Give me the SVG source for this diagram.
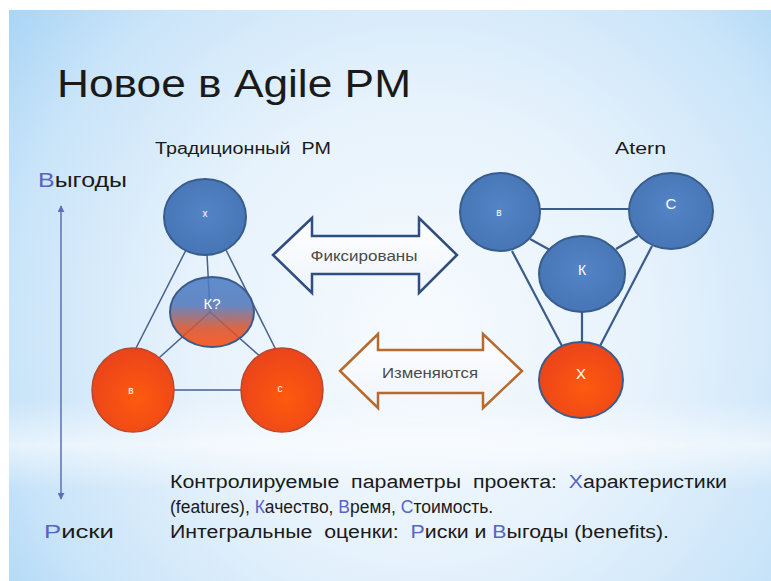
<svg xmlns="http://www.w3.org/2000/svg" width="771" height="581" viewBox="0 0 771 581">
<defs>
<radialGradient id="bg" cx="420" cy="330" r="520" gradientUnits="userSpaceOnUse">
<stop offset="0" stop-color="#f7fbfe"/>
<stop offset="0.45" stop-color="#e6f2fc"/>
<stop offset="0.8" stop-color="#c9e4f9"/>
<stop offset="1" stop-color="#a9d5f6"/>
</radialGradient>
<linearGradient id="streak" x1="0" y1="0" x2="0" y2="1">
<stop offset="0" stop-color="#ffffff" stop-opacity="0"/>
<stop offset="0.5" stop-color="#ffffff" stop-opacity="0.55"/>
<stop offset="1" stop-color="#ffffff" stop-opacity="0"/>
</linearGradient>
<radialGradient id="blueFill" cx="0.5" cy="0.45" r="0.6">
<stop offset="0" stop-color="#5384c6"/>
<stop offset="1" stop-color="#4674b4"/>
</radialGradient>
<radialGradient id="redFill" cx="0.55" cy="0.6" r="0.65">
<stop offset="0" stop-color="#ff5a0e"/>
<stop offset="1" stop-color="#e8421c"/>
</radialGradient>
<linearGradient id="kFill" x1="0" y1="0" x2="0" y2="1">
<stop offset="0" stop-color="#4c7ec6"/>
<stop offset="0.4" stop-color="#5279bb"/>
<stop offset="0.72" stop-color="#d55430"/>
<stop offset="1" stop-color="#ff4a0c"/>
</linearGradient>
<linearGradient id="arrFill" x1="0" y1="0" x2="0" y2="1">
<stop offset="0" stop-color="#ffffff"/>
<stop offset="1" stop-color="#eef4fb"/>
</linearGradient>
<marker id="ah" viewBox="0 0 10 10" refX="9" refY="5" markerWidth="7" markerHeight="7" orient="auto-start-reverse" markerUnits="userSpaceOnUse">
<path d="M0,0 L10,5 L0,10 z" fill="#5b6fb8"/>
</marker>
<style>
.t{font-family:"Liberation Sans","DejaVu Sans",sans-serif;fill:#1a1a1a}
.hl{fill:#5864c4}
.cl{fill:#ffffff;font-family:"Liberation Sans","DejaVu Sans",sans-serif;text-anchor:middle}
.blue{fill:url(#blueFill);stroke:#385d8c;stroke-width:2}
.red{fill:url(#redFill);stroke:#b8482c;stroke-width:1.5}
.lnL{stroke:#465f8c;stroke-width:1.5;fill:none}
.lnR{stroke:#3b5b8a;stroke-width:2.2;fill:none}
.lbl{font-family:"Liberation Sans","DejaVu Sans",sans-serif;fill:#4a4a4a;text-anchor:middle}
</style>
</defs>
<rect x="0" y="0" width="771" height="581" fill="#ffffff"/>
<rect x="9" y="10" width="762" height="571" fill="url(#bg)"/>
<rect x="9" y="400" width="762" height="90" fill="url(#streak)"/>

<text class="t" x="57" y="97" font-size="39" textLength="354" lengthAdjust="spacingAndGlyphs">Новое в Agile PM</text>
<text class="t" x="155" y="154" font-size="16" textLength="176" lengthAdjust="spacingAndGlyphs" xml:space="preserve">Традиционный  PM</text>
<text class="t" x="615" y="154" font-size="16" textLength="51" lengthAdjust="spacingAndGlyphs">Atern</text>
<text class="t" x="38" y="187" font-size="20" textLength="89" lengthAdjust="spacingAndGlyphs"><tspan class="hl">В</tspan>ыгоды</text>
<text class="t" x="44" y="538" font-size="19" textLength="70" lengthAdjust="spacingAndGlyphs"><tspan class="hl">Р</tspan>иски</text>

<g id="connectors">
<line x1="61" y1="345" x2="61" y2="206" stroke="#5b6fb8" stroke-width="1.5" marker-end="url(#ah)"/>
<line x1="61" y1="345" x2="61" y2="499" stroke="#5b6fb8" stroke-width="1.5" marker-end="url(#ah)"/>
<line class="lnL" x1="186" y1="250" x2="134" y2="352"/>
<line class="lnL" x1="226" y1="250" x2="277" y2="352"/>
<line class="lnL" x1="207" y1="254" x2="210" y2="312"/>
<line class="lnL" x1="174" y1="390" x2="241" y2="390"/>
<line class="lnL" x1="210" y1="312" x2="150" y2="366"/>
<line class="lnL" x1="210" y1="312" x2="262" y2="358"/>
<line class="lnR" x1="540" y1="209" x2="629" y2="209"/>
<line class="lnR" x1="530" y1="239" x2="550" y2="250"/>
<line class="lnR" x1="638" y1="236" x2="616" y2="249"/>
<line class="lnR" x1="512" y1="251" x2="562" y2="346"/>
<line class="lnR" x1="652" y1="246" x2="600" y2="346"/>
<line class="lnR" x1="582" y1="311" x2="582" y2="343"/>
</g>

<g id="arrow-fixed">
<polygon points="273,255 312,218 312,236 419,236 419,218 457,255 419,293 419,274 312,274 312,293" fill="url(#arrFill)" stroke="#2f4d80" stroke-width="2.5" stroke-linejoin="miter"/>
<text class="lbl" x="364" y="261" font-size="14" textLength="107" lengthAdjust="spacingAndGlyphs">Фиксированы</text>
</g>
<g id="arrow-change">
<polygon points="340,371 378,334 378,350 483,350 483,334 522,371 483,408 483,393 378,393 378,408" fill="url(#arrFill)" stroke="#b86a2c" stroke-width="2.5" stroke-linejoin="miter"/>
<text class="lbl" x="430" y="378" font-size="15" textLength="96" lengthAdjust="spacingAndGlyphs">Изменяются</text>
</g>

<g id="trad-x">
<ellipse class="blue" cx="205" cy="217" rx="41" ry="38"/>
<text class="cl" x="205" y="217" font-size="10">x</text>
</g>
<g id="trad-k">
<ellipse cx="212" cy="312" rx="42" ry="35" fill="url(#kFill)" fill-opacity="0.88" stroke="#3b5b8a" stroke-width="2"/>
<text class="cl" x="212" y="309" font-size="15">К?</text>
</g>
<g id="trad-b">
<ellipse class="red" cx="133" cy="390" rx="41" ry="42"/>
<text class="cl" x="131" y="394" font-size="10">в</text>
</g>
<g id="trad-c">
<ellipse class="red" cx="282" cy="390" rx="41" ry="42"/>
<text class="cl" x="280" y="392" font-size="10">с</text>
</g>

<g id="atern-b">
<ellipse class="blue" cx="500" cy="212" rx="40" ry="39"/>
<text class="cl" x="499" y="216" font-size="10">в</text>
</g>
<g id="atern-c">
<ellipse class="blue" cx="671" cy="211" rx="42" ry="38"/>
<text class="cl" x="671" y="209" font-size="15">С</text>
</g>
<g id="atern-k">
<ellipse class="blue" cx="582" cy="274" rx="43" ry="38"/>
<text class="cl" x="582" y="275" font-size="14">К</text>
</g>
<g id="atern-x">
<ellipse cx="581" cy="380" rx="42" ry="38" fill="url(#redFill)" stroke="#3b5b8a" stroke-width="2"/>
<text class="cl" x="581" y="379" font-size="15">Х</text>
</g>

<g id="notes">
<text class="t" x="170" y="488" font-size="18" textLength="557" lengthAdjust="spacingAndGlyphs" xml:space="preserve">Контролируемые  параметры  проекта:  <tspan class="hl">Х</tspan>арактеристики</text>
<text class="t" x="170" y="513" font-size="17.5">(features), <tspan class="hl">К</tspan>ачество, <tspan class="hl">В</tspan>ремя, <tspan class="hl">С</tspan>тоимость.</text>
<text class="t" x="170" y="538" font-size="18" textLength="499" lengthAdjust="spacingAndGlyphs" xml:space="preserve">Интегральные  оценки:  <tspan class="hl">Р</tspan>иски и <tspan class="hl">В</tspan>ыгоды (benefits).</text>
</g>
</svg>
